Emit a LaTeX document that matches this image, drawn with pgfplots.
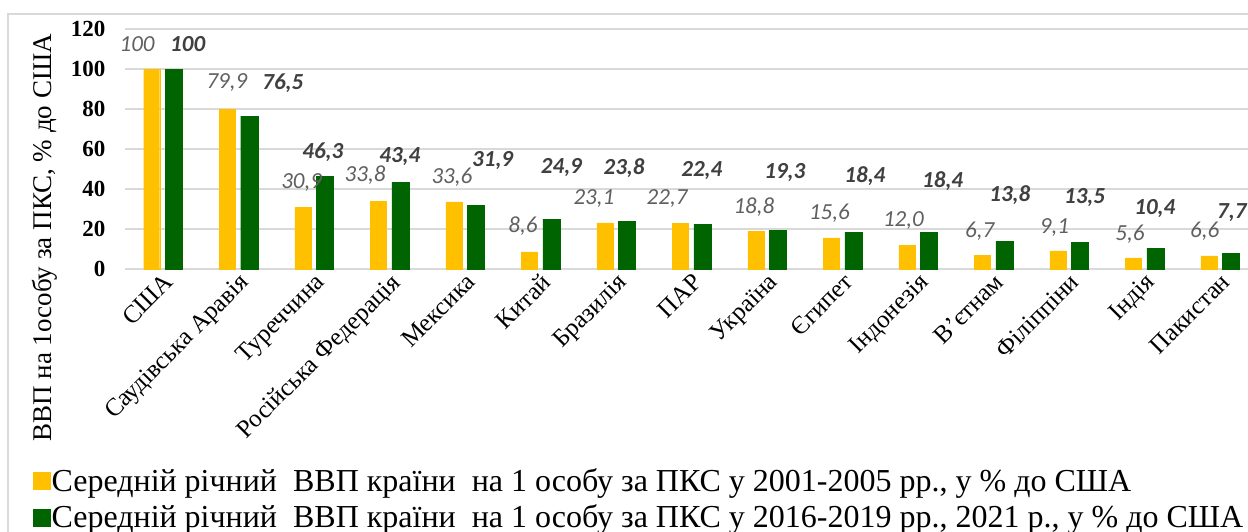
\documentclass[border=0pt]{standalone}
\usepackage{fontspec}
\setmainfont{Liberation Serif}
\newfontfamily\calib{Carlito}
\usepackage{pgfplots}
\usepackage{pgfplotstable}
\pgfplotsset{compat=1.18}

\definecolor{gold}{HTML}{FFC000}
\definecolor{dgreen}{HTML}{006400}
\definecolor{gridgray}{HTML}{D9D9D9}
\definecolor{labgray}{HTML}{606060}
\definecolor{labdark}{HTML}{404040}

% x, 2001-2005, 2016-2019/2021
\pgfplotstableread{
x s1 s2
0 100 100
1 79.9 76.5
2 30.9 46.3
3 33.8 43.4
4 33.6 31.9
5 8.6 24.9
6 23.1 23.8
7 22.7 22.4
8 18.8 19.3
9 15.6 18.4
10 12.0 18.4
11 6.7 13.8
12 9.1 13.5
13 5.6 10.4
14 6.6 7.7
}\bars

% label positions as placed in the original chart
\pgfplotstableread{
x y lab
-0.34 112.5 100
0.85 93 79,9
1.84 43 30,9
2.68 47 33,8
3.83 46 33,6
4.77 21.5 8,6
5.71 35 23,1
6.68 35 22,7
7.83 31 18,8
8.83 28 15,6
9.81 24 12,0
10.82 19 6,7
11.81 20.5 9,1
12.81 17.5 5,6
13.80 19 6,6
}\labA

\pgfplotstableread{
x y lab
0.33 112.5 100
1.59 93 76,5
2.12 58.5 46,3
3.14 56 43,4
4.37 54 31,9
5.28 50.5 24,9
6.11 50.5 23,8
7.14 49 22,4
8.24 48 19,3
9.30 46.5 18,4
10.33 44 18,4
11.22 37 13,8
12.21 35.5 13,5
13.14 30 10,4
14.16 28 7,7
}\labB

\begin{document}
\begin{tikzpicture}
\draw[gridgray, line width=2bp] (-117bp,255bp) rectangle (1300bp,-400bp);
\begin{axis}[
    at={(0,0)}, anchor=south west,
    scale only axis,
    width=1123bp, height=240bp,
    xmin=-0.5, xmax=14.374,
    ymin=0, ymax=120,
    clip=false,
    axis x line*=bottom,
    axis y line*=left,
    y axis line style={draw=none},
    x axis line style={draw=gridgray, line width=1.5bp},
    major tick length=0pt,
    ymajorgrids,
    grid style={draw=gridgray, line width=1.5bp},
    ytick={0,20,...,120},
    xtick={0,...,14},
    xticklabels={США, Саудівська Аравія, Туреччина, Російська Федерація, Мексика, Китай, Бразилія, ПАР, Україна, Єгипет, Індонезія, В'єтнам, Філіппіни, Індія, Пакистан},
    /pgf/number format/assume math mode=true,
    yticklabel style={font=\bfseries\fontsize{23bp}{27bp}\selectfont, anchor=east, xshift=-16bp},
    xticklabel style={font=\fontsize{25bp}{28bp}\selectfont, rotate=45, anchor=north east, inner sep=2bp},
    every axis y label/.style={at={([xshift=-80bp]rel axis cs:0,0.13)}, rotate=90, anchor=center,
        font=\fontsize{27bp}{30bp}\selectfont},
    ylabel={ВВП на 1особу за ПКС, \% до США},
    legend style={at={(rel axis cs:0,0)}, anchor=north west, xshift=-95bp, yshift=-196bp,
        draw=none, fill=none, font=\fontsize{32bp}{34bp}\selectfont,
        legend cell align=left, row sep=10bp,
        nodes={inner sep=1bp}},
    legend image code/.code={\fill[#1] (0bp,-9bp) rectangle (17bp,8bp);},
]
\addplot[ybar, bar width=16bp, bar shift=-11bp, fill=gold, draw=gold] table[x=x, y=s1] {\bars};
\addplot[ybar, bar width=17bp, bar shift=11bp, fill=dgreen, draw=dgreen] table[x=x, y=s2] {\bars};

\addplot[forget plot, draw=none, mark=none, nodes near coords, point meta=explicit symbolic,
    every node near coord/.style={anchor=center, inner sep=0pt, text=labgray,
        font=\calib\itshape\fontsize{23bp}{23bp}\selectfont}]
    table[x=x, y=y, meta=lab] {\labA};
\addplot[forget plot, draw=none, mark=none, nodes near coords, point meta=explicit symbolic,
    every node near coord/.style={anchor=center, inner sep=0pt, text=labdark,
        font=\calib\bfseries\itshape\fontsize{23bp}{23bp}\selectfont}]
    table[x=x, y=y, meta=lab] {\labB};

\legend{{Середній річний\ \ ВВП країни\ \ на 1 особу за ПКС у 2001-2005 рр., у \% до США},
        {Середній річний\ \ ВВП країни\ \ на 1 особу за ПКС у 2016-2019 рр., 2021 р., у \% до США}}
\end{axis}
\pgfresetboundingbox
\useasboundingbox (-125bp,-263bp) rectangle (1123bp,269bp);
\end{tikzpicture}
\end{document}
